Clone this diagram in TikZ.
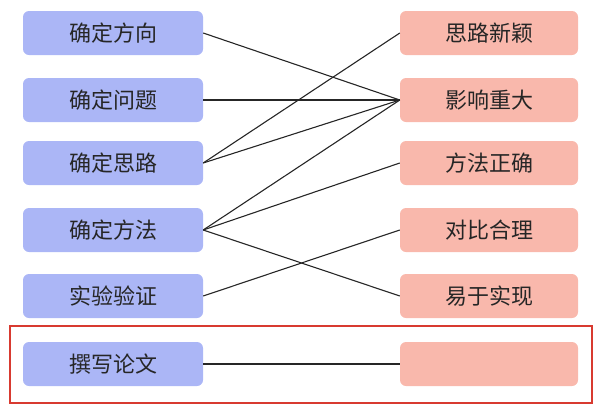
\documentclass[tikz,border=0pt]{standalone}
\usepackage{fontspec}
\setmainfont{Noto Sans CJK SC}
\definecolor{lb}{HTML}{ABB6F6}
\definecolor{rp}{HTML}{F9B8AC}
\definecolor{fr}{HTML}{D83A30}
\tikzset{
 lbox/.style={fill=lb,rounded corners=6pt,minimum width=180pt,minimum height=44pt,font=\fontsize{22}{24}\selectfont,text=black!85},
 rbox/.style={fill=rp,rounded corners=6pt,minimum width=178pt,minimum height=44pt,font=\fontsize{22}{24}\selectfont,text=black!85},
 ln/.style={line width=1.1pt,black!85}
}
\begin{document}
\begin{tikzpicture}[x=1pt,y=-1pt]
\useasboundingbox (0,0) rectangle (600,410);
\node[lbox] (l1) at (113,33) {确定方向};
\node[lbox] (l2) at (113,100) {确定问题};
\node[lbox] (l3) at (113,163) {确定思路};
\node[lbox] (l4) at (113,230) {确定方法};
\node[lbox] (l5) at (113,296) {实验验证};
\node[lbox] (l6) at (113,364) {撰写论文};
\node[rbox] (r1) at (489,33) {思路新颖};
\node[rbox] (r2) at (489,100) {影响重大};
\node[rbox] (r3) at (489,163) {方法正确};
\node[rbox] (r4) at (489,230) {对比合理};
\node[rbox] (r5) at (489,296) {易于实现};
\node[rbox] (r6) at (489,364) {};
\draw[ln] (l1.east) -- (r2.west);
\draw[ln] (l2.east) -- (r2.west);
\draw[ln] (l3.east) -- (r1.west);
\draw[ln] (l3.east) -- (r2.west);
\draw[ln] (l4.east) -- (r2.west);
\draw[ln] (l4.east) -- (r3.west);
\draw[ln] (l4.east) -- (r5.west);
\draw[ln] (l5.east) -- (r4.west);
\draw[ln] (l6.east) -- (r6.west);
\draw[fr,line width=2pt] (10,326) rectangle (592,403);
\end{tikzpicture}
\end{document}
